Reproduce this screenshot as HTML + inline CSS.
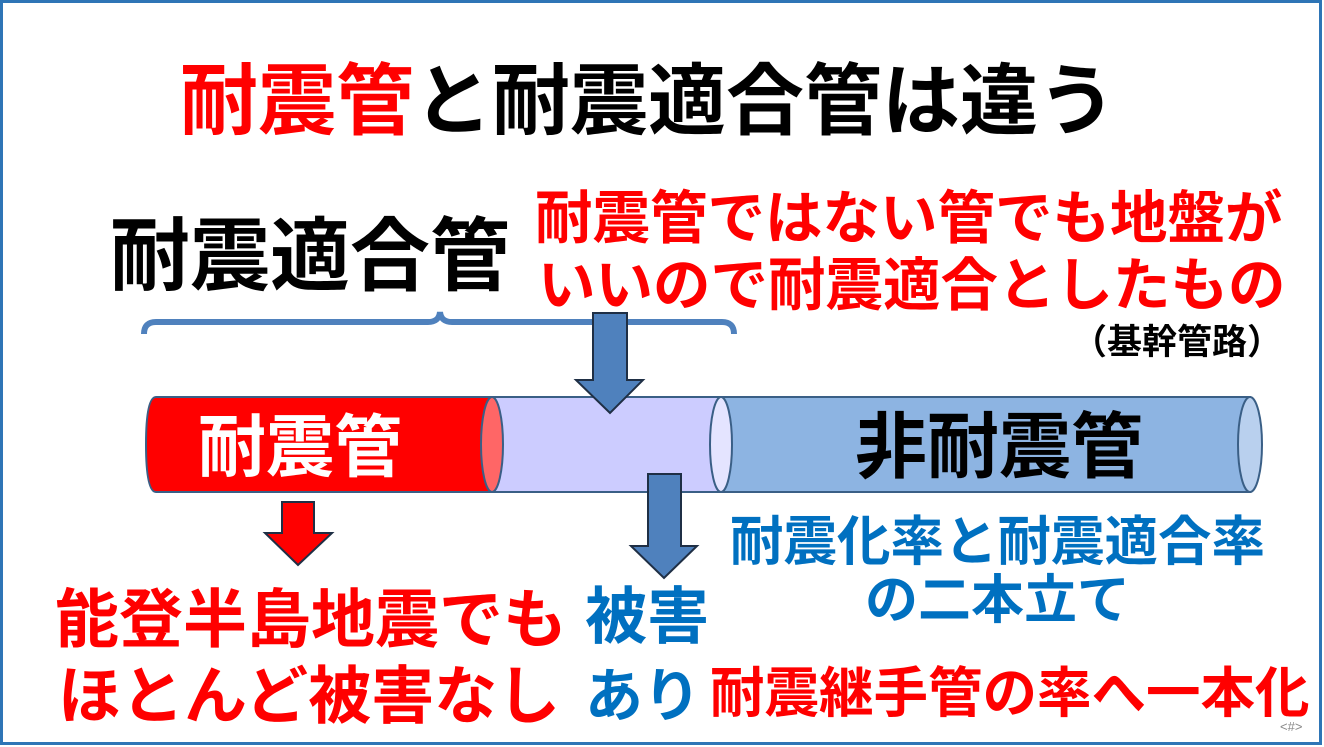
<!DOCTYPE html>
<html><head><meta charset="utf-8"><style>
html,body{margin:0;padding:0;background:#fff;}
svg{display:block;}
text{font-family:"Liberation Sans","Noto Sans CJK JP",sans-serif;font-weight:bold;}
</style></head><body>
<svg width="1324" height="747" viewBox="0 0 1324 747" xmlns="http://www.w3.org/2000/svg">
<rect x="0" y="0" width="1324" height="747" fill="#fff"/>
<rect x="1.5" y="1.5" width="1319" height="742" fill="none" stroke="#2E75B6" stroke-width="3"/>

<text x="180" y="128" font-size="78" fill="#FF0000">耐震管<tspan fill="#000">と耐震適合管は違う</tspan></text>

<text x="110" y="284" font-size="80" fill="#000">耐震適合管</text>

<text x="535" y="238" font-size="57.5" fill="#FF0000">耐震管ではない管でも地盤が</text>
<text x="538" y="305" font-size="57.5" fill="#FF0000">いいので耐震適合としたもの</text>
<text x="1072" y="354" font-size="35" fill="#000">（基幹管路）</text>

<!-- brace -->
<path d="M144 334 Q144 322 156 322 L428 322 Q439 322 440 312 Q441 322 452 322 L722 322 Q734 322 734 334" fill="none" stroke="#4F81BD" stroke-width="6"/>

<!-- blue pipe -->
<path d="M722 397 L1250 397 L1250 492 L722 492 Z" fill="#8DB4E2" stroke="#3A5F86" stroke-width="2"/>
<ellipse cx="1250" cy="444.5" rx="12" ry="47.5" fill="#B9D0EE" stroke="#3A5F86" stroke-width="2"/>
<!-- lavender pipe -->
<path d="M492 397 L721 397 L721 492 L492 492 Z" fill="#CCCCFF" stroke="#3A5F86" stroke-width="2"/>
<ellipse cx="721" cy="444.5" rx="11" ry="47.5" fill="#E4E4FF" stroke="#3A5F86" stroke-width="2"/>
<!-- red pipe -->
<path d="M156 397 L492 397 L492 492 L156 492 Q146 492 146 444.5 Q146 397 156 397 Z" fill="#FF0000" stroke="#3A5F86" stroke-width="2"/>
<ellipse cx="492" cy="444.5" rx="11" ry="47.5" fill="#FF6666" stroke="#3A5F86" stroke-width="2"/>

<text x="198" y="471" font-size="68" fill="#fff">耐震管</text>
<text x="855" y="472" font-size="72" fill="#000">非耐震管</text>

<!-- arrows -->
<path d="M593 313 L627 313 L627 380 L643 380 L610 413 L576 380 L593 380 Z" fill="#4F81BD" stroke="#1F2F45" stroke-width="2"/>
<path d="M648 474 L681 474 L681 546 L697 546 L664 578 L631 546 L648 546 Z" fill="#4F81BD" stroke="#1F2F45" stroke-width="2"/>
<path d="M282 502 L314 502 L314 533 L332 533 L298 565 L265 533 L282 533 Z" fill="#FF0000" stroke="#1F2F45" stroke-width="2"/>

<text x="55" y="642" font-size="64" fill="#FF0000">能登半島地震でも</text>
<text x="58" y="718" font-size="63" fill="#FF0000">ほとんど被害なし</text>

<text x="585" y="638" font-size="62" fill="#0070C0">被害</text>
<text x="585" y="716" font-size="58" fill="#0070C0">あり</text>

<text x="730" y="560" font-size="53.5" fill="#0070C0">耐震化率と耐震適合率</text>
<text x="865" y="618" font-size="53" fill="#0070C0">の二本立て</text>

<text x="710" y="712" font-size="54.5" fill="#FF0000">耐震継手管の率へ一本化</text>

<text x="1280" y="731" font-size="13" fill="#888" style="font-weight:normal">&lt;#&gt;</text>
</svg>
</body></html>
